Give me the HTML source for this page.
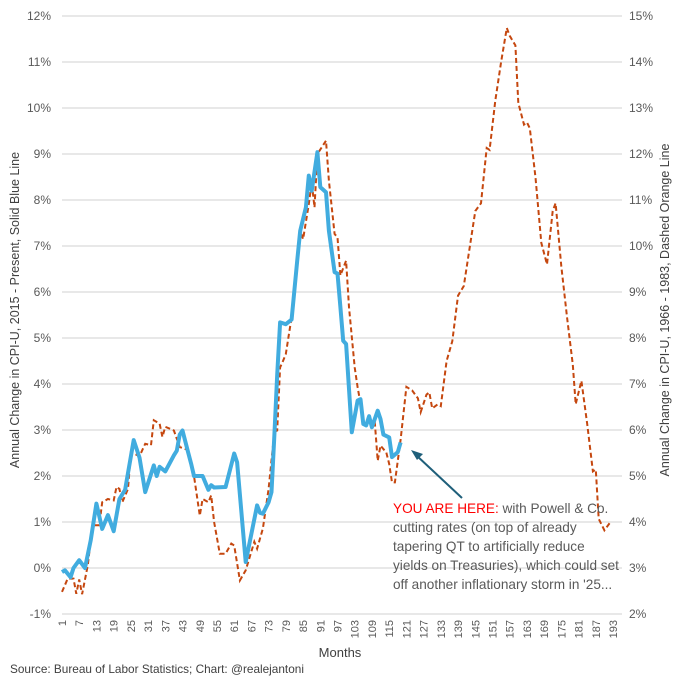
<!DOCTYPE html>
<html><head><meta charset="utf-8"><style>
body{margin:0;background:#fff;}
svg{display:block;font-family:"Liberation Sans",Arial,sans-serif;}
</style></head><body>
<svg id="chart" width="679" height="680" viewBox="0 0 679 680">
<g id="grid"></g>
<g id="leftTicks"></g>
<g id="rightTicks"></g>
<g id="xTicks"></g>
<g id="series"></g>
<text x="19" y="310" transform="rotate(-90 19 310)" text-anchor="middle" font-size="12.5" fill="#404040">Annual Change in CPI-U, 2015 - Present, Solid Blue Line</text>
<text x="669" y="310" transform="rotate(-90 669 310)" text-anchor="middle" font-size="12.5" fill="#404040">Annual Change in CPI-U, 1966 - 1983, Dashed Orange Line</text>
<text x="340" y="657" text-anchor="middle" font-size="13" fill="#404040">Months</text>
<text x="10" y="673" font-size="11.8" fill="#404040">Source: Bureau of Labor Statistics; Chart: @realejantoni</text>
<g>
<line x1="462" y1="498" x2="416" y2="455" stroke="#1f5f7a" stroke-width="2"/>
<polygon points="411,450 423,454 417,460" fill="#1f5f7a"/>
<text font-size="13.6" fill="#595959">
<tspan x="393" y="513"><tspan fill="#ff0000">YOU ARE HERE:</tspan> with Powell &amp; Co.</tspan>
<tspan x="393" y="532">cutting rates (on top of already</tspan>
<tspan x="393" y="551">tapering QT to artificially reduce</tspan>
<tspan x="393" y="570">yields on Treasuries), which could set</tspan>
<tspan x="393" y="589">off another inflationary storm in '25...</tspan>
</text>
</g>
</svg>
<script>
const leftTickValues=[12,11,10,9,8,7,6,5,4,3,2,1,0,-1];
const rightTickValues=[15,14,13,12,11,10,9,8,7,6,5,4,3,2];
const xTickLabels=[1,7,13,19,25,31,37,43,49,55,61,67,73,79,85,91,97,103,109,115,121,127,133,139,145,151,157,163,169,175,181,187,193];
const blueMonths=[1,2,4,5,7,9,11,13,15,17,19,21,23,26,28,30,33,34,35,37,40,41,42,43,45,46,47,50,52,53,54,58,61,62,65,69,70,71,73,74,75,76,77,79,81,83,84,86,87,88,90,91,93,94,96,97,98,99,100,102,104,105,106,107,108,109,111,112,113,115,116,118,119];
const blueValues=[-0.09,-0.05,-0.2,0,0.17,0,0.6,1.4,0.85,1.15,0.8,1.5,1.7,2.78,2.4,1.65,2.23,2.0,2.2,2.1,2.45,2.55,2.9,2.99,2.5,2.27,2.0,2.0,1.7,1.8,1.75,1.76,2.49,2.3,0.13,1.36,1.2,1.18,1.43,1.65,2.9,4.2,5.34,5.3,5.4,6.7,7.33,7.84,8.53,8.2,9.04,8.28,8.17,7.33,6.43,6.4,5.67,4.94,4.87,2.95,3.64,3.67,3.13,3.1,3.3,3.06,3.42,3.24,2.9,2.84,2.41,2.52,2.73];
const orangeMonths=[1,3,5,6,7,8,10,11,12,14,15,17,19,20,21,22,24,25,28,30,32,33,35,36,37,40,42,45,47,49,50,52,53,54,56,58,60,61,63,65,68,69,71,73,75,76,77,78,79,81,83,84,85,87,88,89,90,93,94,96,97,98,100,101,103,104,106,107,110,111,112,114,115,116,117,119,121,123,125,126,128,129,130,132,133,135,137,139,141,143,145,147,149,150,152,154,156,157,159,160,162,163,164,166,168,170,172,173,175,177,179,180,181,182,184,186,187,188,190,192];
const orangeValues=[2.48,2.77,2.77,2.44,2.75,2.43,3.06,3.6,3.93,3.93,4.43,4.5,4.47,4.76,4.72,4.43,4.72,5.52,5.43,5.7,5.67,6.21,6.14,5.85,6.07,5.99,5.63,5.56,5.0,4.14,4.5,4.43,4.58,4.0,3.31,3.31,3.53,3.49,2.73,2.95,3.57,3.42,3.86,4.72,5.96,5.99,7.36,7.5,7.65,8.45,9.68,10.33,10.15,10.91,11.38,10.84,12.0,12.29,11.42,10.26,10.19,9.36,9.68,8.67,7.36,6.93,6.24,6.2,6.17,5.33,5.66,5.51,5.26,4.86,4.86,5.79,6.94,6.86,6.69,6.39,6.77,6.82,6.47,6.56,6.52,7.5,7.93,8.92,9.13,9.94,10.76,10.93,12.13,12.09,13.16,14.0,14.74,14.57,14.36,13.11,12.64,12.69,12.56,11.49,10.07,9.6,10.76,10.93,9.56,8.44,7.42,6.56,6.82,7.07,6.13,5.1,5.14,4.07,3.82,3.99];

const NS='http://www.w3.org/2000/svg';
const X0=62,X1=613,YT=16,YB=614;
const xScale=m=>X0+(m-1)*(X1-X0)/192;
const yLeft=v=>YB-(v+1)*(YB-YT)/13;
const yRight=v=>YB-(v-2)*(YB-YT)/13;
function mk(tag,attrs,parent){const e=document.createElementNS(NS,tag);for(const k in attrs)e.setAttribute(k,attrs[k]);parent.appendChild(e);return e;}
const grid=document.getElementById('grid');
leftTickValues.forEach(v=>{
  const l=mk('line',{x1:X0,x2:622,y1:yLeft(v),y2:yLeft(v),stroke:'#d9d9d9','stroke-width':1.3},grid);
  
  
  const t=mk('text',{x:51,y:yLeft(v)+4,'text-anchor':'end','font-size':12,fill:'#595959'},document.getElementById('leftTicks'));
  t.textContent=v+'%';
  
  
});
rightTickValues.forEach(v=>{
  const t=mk('text',{x:629,y:yRight(v)+4,'text-anchor':'start','font-size':12,fill:'#595959'},document.getElementById('rightTicks'));
  t.textContent=v+'%';
  
  
});
xTickLabels.forEach(m=>{
  const x=xScale(m)+4,y=620;
  const t=mk('text',{x:x,y:y,transform:`rotate(-90 ${x} ${y})`,'text-anchor':'end','font-size':11,fill:'#595959'},document.getElementById('xTicks'));
  t.textContent=m;
  
  
});
const series=document.getElementById('series');
const op=orangeMonths.map((m,i)=>xScale(m).toFixed(1)+','+yRight(orangeValues[i]).toFixed(1)).join(' ');
const o=mk('polyline',{points:op,fill:'none',stroke:'#c5470f','stroke-width':2,'stroke-dasharray':'5,3'},series);


const bp=blueMonths.map((m,i)=>xScale(m).toFixed(1)+','+yLeft(blueValues[i]).toFixed(1)).join(' ');
const b=mk('polyline',{points:bp,fill:'none',stroke:'#41acdf','stroke-width':4,'stroke-linejoin':'round'},series);


</script>
</body></html>
